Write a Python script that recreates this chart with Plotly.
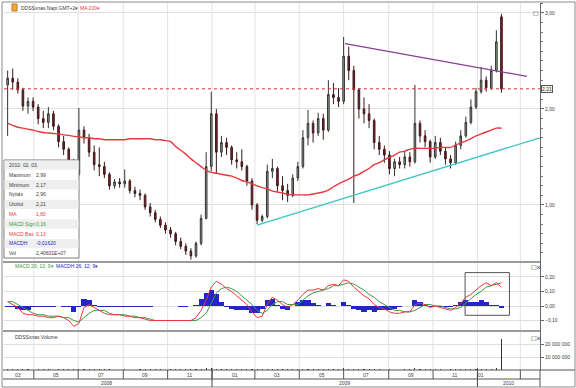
import pandas as pd
import plotly.graph_objects as go

# ---------------- data ----------------
dates = pd.date_range('2008-03-26', '2010-02-03', freq='7D')  # weekly candles

open_ = [2.25, 2.32, 2.28, 2.20, 2.03, 2.08, 2.02, 1.90, 1.86, 1.95,
         1.82, 1.66, 1.58, 1.42, 1.32, 1.78, 1.70, 1.55, 1.42, 1.40,
         1.32, 1.20, 1.24, 1.22, 1.25, 1.15, 1.12, 1.10, 0.98, 0.92,
         0.85, 0.79, 0.74, 0.70, 0.62, 0.57, 0.52, 0.47, 0.60, 0.86,
         1.40, 1.95, 1.55, 1.65, 1.60, 1.47, 1.45, 1.40, 1.25, 1.00,
         0.84, 0.88, 1.35, 1.38, 1.20, 1.15, 1.10, 1.28, 1.40, 1.70,
         1.85, 1.75, 1.90, 1.78, 2.15, 2.12, 2.08, 2.55, 2.40, 2.20,
         2.00, 1.95, 1.88, 1.65, 1.58, 1.52, 1.38, 1.45, 1.42, 1.50,
         1.45, 1.85, 1.72, 1.66, 1.50, 1.65, 1.56, 1.48, 1.44, 1.62,
         1.72, 1.86, 2.02, 2.18, 2.30, 2.22, 2.40, 2.96]
high = [2.40, 2.42, 2.32, 2.22, 2.12, 2.12, 2.05, 1.98, 2.02, 1.98,
        1.84, 1.72, 1.60, 1.48, 2.01, 1.82, 1.74, 1.62, 1.60, 1.45,
        1.34, 1.27, 1.28, 1.37, 1.27, 1.19, 1.16, 1.12, 1.02, 0.95,
        0.88, 0.82, 0.77, 0.72, 0.66, 0.60, 0.55, 0.62, 0.90, 1.55,
        2.18, 2.00, 1.72, 1.70, 1.62, 1.55, 1.58, 1.42, 1.28, 1.02,
        0.90, 1.42, 1.48, 1.40, 1.30, 1.22, 1.32, 1.45, 1.78, 1.99,
        1.88, 1.96, 1.95, 2.30, 2.27, 2.22, 2.75, 2.65, 2.45, 2.22,
        2.12, 2.05, 1.90, 1.72, 1.62, 1.56, 1.48, 1.50, 1.55, 1.55,
        2.25, 1.88, 1.78, 1.68, 1.72, 1.70, 1.60, 1.52, 1.66, 1.78,
        1.92, 2.10, 2.22, 2.44, 2.34, 2.45, 2.82, 2.99]
low = [1.72, 2.20, 2.16, 1.98, 1.95, 1.98, 1.84, 1.80, 1.80, 1.78,
       1.60, 1.52, 1.38, 1.28, 1.30, 1.64, 1.50, 1.36, 1.30, 1.28,
       1.16, 1.17, 1.18, 1.18, 1.12, 1.08, 1.05, 0.95, 0.88, 0.82,
       0.76, 0.70, 0.66, 0.58, 0.54, 0.48, 0.43, 0.45, 0.58, 0.85,
       1.35, 1.33, 1.50, 1.52, 1.42, 1.38, 1.36, 1.20, 0.95, 0.80,
       0.82, 0.86, 1.28, 1.14, 1.05, 1.03, 1.08, 1.25, 1.38, 1.62,
       1.65, 1.72, 1.68, 1.76, 2.05, 2.02, 2.05, 2.30, 1.02, 1.90,
       1.85, 1.80, 1.58, 1.52, 1.44, 1.32, 1.30, 1.38, 1.38, 1.40,
       1.43, 1.65, 1.60, 1.44, 1.48, 1.52, 1.42, 1.38, 1.42, 1.58,
       1.70, 1.84, 2.00, 2.16, 2.18, 2.20, 2.38, 2.17]
close = [2.32, 2.28, 2.20, 2.03, 2.08, 2.02, 1.90, 1.86, 1.95, 1.82,
         1.66, 1.58, 1.42, 1.32, 1.78, 1.70, 1.55, 1.42, 1.40, 1.32,
         1.20, 1.24, 1.22, 1.25, 1.15, 1.12, 1.10, 0.98, 0.92, 0.85,
         0.79, 0.74, 0.70, 0.62, 0.57, 0.52, 0.47, 0.60, 0.86, 1.40,
         1.95, 1.55, 1.65, 1.60, 1.47, 1.45, 1.40, 1.25, 1.00, 0.84,
         0.88, 1.35, 1.38, 1.20, 1.15, 1.10, 1.28, 1.40, 1.70, 1.85,
         1.75, 1.90, 1.78, 2.15, 2.12, 2.08, 2.55, 2.40, 2.20, 2.00,
         1.95, 1.88, 1.65, 1.58, 1.52, 1.38, 1.45, 1.42, 1.50, 1.45,
         1.85, 1.72, 1.66, 1.50, 1.65, 1.56, 1.48, 1.44, 1.62, 1.72,
         1.86, 2.02, 2.18, 2.30, 2.22, 2.40, 2.70, 2.21]
ma200 = [1.85, 1.83, 1.81, 1.80, 1.79, 1.78, 1.765, 1.755, 1.75, 1.745,
         1.74, 1.73, 1.725, 1.715, 1.71, 1.70, 1.70, 1.69, 1.69, 1.68,
         1.68, 1.68, 1.68, 1.68, 1.69, 1.69, 1.69, 1.69, 1.69, 1.68,
         1.68, 1.67, 1.66, 1.61, 1.57, 1.53, 1.48, 1.44, 1.40, 1.36,
         1.34, 1.33, 1.32, 1.31, 1.30, 1.28, 1.255, 1.24, 1.22, 1.20,
         1.18, 1.17, 1.145, 1.135, 1.125, 1.11, 1.105, 1.105, 1.105, 1.105,
         1.115, 1.125, 1.135, 1.155, 1.19, 1.22, 1.245, 1.27, 1.30, 1.32,
         1.35, 1.38, 1.42, 1.44, 1.47, 1.495, 1.52, 1.55, 1.56, 1.58,
         1.59, 1.59, 1.59, 1.59, 1.59, 1.60, 1.60, 1.60, 1.625, 1.645,
         1.665, 1.69, 1.72, 1.74, 1.76, 1.78, 1.80, 1.80]
macd_base = [0.03, 0.01, -0.01, -0.05, -0.06, -0.06, -0.07, -0.07, -0.08, -0.08,
             -0.07, -0.08, -0.10, -0.14, -0.12, -0.01, 0.01, -0.01, -0.03, -0.05,
             -0.06, -0.06, -0.06, -0.07, -0.07, -0.08, -0.08, -0.09, -0.10, -0.10,
             -0.10, -0.10, -0.10, -0.10, -0.10, -0.10, -0.10, -0.08, -0.03, 0.04,
             0.13, 0.17, 0.15, 0.12, 0.10, 0.07, 0.04, 0.01, -0.04, -0.08,
             -0.07, 0.01, 0.06, 0.04, 0.01, -0.01, 0.01, 0.04, 0.08, 0.11,
             0.11, 0.12, 0.11, 0.14, 0.15, 0.14, 0.18, 0.17, 0.13, 0.10,
             0.07, 0.05, 0.01, -0.01, -0.02, -0.04, -0.05, -0.05, -0.04, -0.04,
             0.01, 0.02, 0.01, -0.01, 0.00, -0.01, -0.02, -0.03, -0.01, 0.02,
             0.06, 0.08, 0.11, 0.14, 0.16, 0.14, 0.16, 0.13]
macd_signal = [0.03, 0.03, 0.01, -0.01, -0.03, -0.05, -0.06, -0.06, -0.07, -0.07,
               -0.07, -0.08, -0.08, -0.10, -0.11, -0.08, -0.05, -0.03, -0.03, -0.03,
               -0.05, -0.06, -0.06, -0.06, -0.07, -0.07, -0.08, -0.08, -0.09, -0.10,
               -0.10, -0.10, -0.10, -0.10, -0.10, -0.10, -0.10, -0.10, -0.08, -0.05,
               0.02, 0.09, 0.12, 0.13, 0.12, 0.10, 0.07, 0.04, 0.01, -0.03,
               -0.05, -0.03, 0.01, 0.03, 0.03, 0.01, 0.01, 0.01, 0.04, 0.07,
               0.09, 0.10, 0.11, 0.12, 0.14, 0.14, 0.15, 0.16, 0.15, 0.13,
               0.11, 0.08, 0.06, 0.03, 0.01, -0.01, -0.03, -0.03, -0.04, -0.04,
               -0.03, -0.01, 0.01, 0.01, 0.00, 0.00, -0.01, -0.02, -0.02, -0.01,
               0.02, 0.05, 0.08, 0.10, 0.13, 0.14, 0.15, 0.16]
macd_hist = [-0.01, -0.01, -0.02, -0.03, -0.03, -0.01, -0.01, -0.01, -0.01, -0.01,
             0.00, -0.01, -0.01, -0.04, -0.01, 0.05, 0.04, 0.01, -0.01, -0.01,
             -0.01, -0.01, -0.01, -0.01, -0.01, -0.01, -0.01, -0.01, -0.01, 0.00,
             0.00, 0.00, 0.00, 0.00, -0.005, -0.005, 0.00, 0.01, 0.05, 0.09,
             0.11, 0.08, 0.03, -0.01, -0.02, -0.03, -0.03, -0.03, -0.05, -0.05,
             -0.02, 0.04, 0.05, 0.01, -0.02, -0.03, 0.00, 0.03, 0.04, 0.04,
             0.02, 0.01, 0.00, 0.02, 0.01, 0.00, 0.03, 0.01, -0.02, -0.03,
             -0.04, -0.03, -0.04, -0.03, -0.03, -0.03, -0.02, -0.01, 0.00, 0.00,
             0.04, 0.03, 0.01, -0.01, 0.00, -0.01, -0.01, -0.01, 0.01, 0.03,
             0.04, 0.03, 0.03, 0.04, 0.03, 0.01, 0.01, -0.0162]
volume_m = [0.6, 0.5, 0.4, 0.5, 0.4, 0.3, 0.4, 0.5, 0.4, 0.3,
            0.5, 0.4, 0.6, 0.7, 0.9, 0.5, 0.4, 0.6, 0.5, 0.4,
            0.4, 0.3, 0.3, 0.4, 0.3, 0.3, 0.4, 0.5, 0.4, 0.5,
            0.4, 0.3, 0.4, 0.5, 0.4, 0.6, 0.5, 0.7, 0.9, 1.2,
            1.4, 1.0, 0.6, 0.5, 0.4, 0.4, 0.5, 0.4, 0.7, 0.6,
            0.5, 0.8, 0.6, 0.5, 0.4, 0.4, 0.5, 0.5, 0.8, 0.7,
            0.5, 0.6, 0.5, 0.8, 0.6, 0.5, 1.3, 0.9, 1.0, 0.6,
            0.5, 0.4, 0.5, 0.4, 0.3, 0.4, 0.3, 0.3, 0.4, 0.4,
            1.2, 0.6, 0.5, 0.4, 0.5, 0.4, 0.3, 0.4, 0.6, 0.5,
            0.6, 0.7, 0.8, 0.9, 0.7, 1.1, 1.5, 24.0601]

# drawn trend lines and level
resist_x = ['2009-07-03', '2010-03-10']
resist_y = [2.68, 2.34]
support_x = ['2009-03-04', '2010-03-28']
support_y = [0.79, 1.70]
level = 2.21

x_range = ['2008-03-21', '2010-03-28']
sep_dates = ['2008-05-01', '2008-07-01', '2008-09-01', '2008-11-01', '2009-01-01', '2009-03-01',
             '2009-05-01', '2009-07-01', '2009-09-01', '2009-11-01', '2010-01-01', '2010-03-01']
year_sep = ['2009-01-01', '2010-01-01']
month_labels = ['03', '05', '07', '09', '11', '01', '03', '05', '07', '09', '11', '01']
month_pos = ['2008-04-09', '2008-06-01', '2008-08-01', '2008-10-01', '2008-12-01', '2009-02-01',
             '2009-04-01', '2009-06-01', '2009-08-01', '2009-10-01', '2009-12-01', '2010-01-06']
year_labels = ['2008', '2009', '2010']
year_pos = ['2008-08-09', '2009-07-02', '2010-02-12']
price_ticks = [1, 2, 3]
macd_ticks = [-0.1, 0.0, 0.1, 0.2]
vol_ticks = [10_000_000, 20_000_000]

volume = [v * 1e6 for v in volume_m]
DAY = 86400000

# ---------------- geometry helpers (pixel -> paper) ----------------
W, H = 576, 388
ML, MR, MT, MB = 4, 36, 3, 18
PW, PH = W - ML - MR, H - MT - MB


def px(x):
    return (x - ML) / PW


def py(y):
    return (H - MB - y) / PH


FONT = 'Liberation Sans, Arial, sans-serif'
RED = '#e8383f'
GREEN = '#3c9a3c'
BLUE = '#2424c8'
TXT = '#3a3a3a'

fig = go.Figure()

fig.add_trace(go.Candlestick(
    x=dates, open=open_, high=high, low=low, close=close, xaxis='x', yaxis='y',
    increasing=dict(line=dict(color='#333333', width=1), fillcolor='#8fa88f'),
    decreasing=dict(line=dict(color='#3a1a1a', width=1), fillcolor='#8b1a2b'),
    whiskerwidth=0, hoverinfo='skip'))
fig.add_trace(go.Scatter(x=dates, y=ma200, mode='lines', yaxis='y',
                         line=dict(color=RED, width=1.4, shape='spline'), hoverinfo='skip'))
fig.add_trace(go.Scatter(x=resist_x, y=resist_y, mode='lines', yaxis='y',
                         line=dict(color='#8a3d96', width=1.3), hoverinfo='skip'))
fig.add_trace(go.Scatter(x=support_x, y=support_y, mode='lines', yaxis='y',
                         line=dict(color='#40c4c4', width=1.3), hoverinfo='skip'))
fig.add_trace(go.Scatter(x=x_range, y=[level, level], mode='lines', yaxis='y',
                         line=dict(color='#e03030', width=1, dash='dot'), hoverinfo='skip'))

fig.add_trace(go.Bar(x=dates, y=macd_hist, yaxis='y2', width=7 * DAY,
                     marker=dict(color=BLUE, line=dict(width=0)), hoverinfo='skip'))
fig.add_trace(go.Scatter(x=dates, y=macd_signal, mode='lines', yaxis='y2',
                         line=dict(color=GREEN, width=1), hoverinfo='skip'))
fig.add_trace(go.Scatter(x=dates, y=macd_base, mode='lines', yaxis='y2',
                         line=dict(color=RED, width=1), hoverinfo='skip'))

fig.add_trace(go.Bar(x=dates, y=volume, yaxis='y3', width=1.6 * DAY,
                     marker=dict(color='#333333', line=dict(width=0)), hoverinfo='skip'))

yax_common = dict(side='right', anchor='x', showline=True, linecolor='#666666', linewidth=1,
                  ticks='outside', ticklen=3, tickcolor='#666666', showgrid=True,
                  gridcolor='#dedede', gridwidth=1, zeroline=False, fixedrange=True,
                  tickfont=dict(size=5, color=TXT, family=FONT))

fig.update_layout(
    width=W, height=H, margin=dict(l=ML, r=MR, t=MT, b=MB),
    paper_bgcolor='white', plot_bgcolor='white', showlegend=False,
    separators=', ', barmode='overlay', bargap=0, boxgap=0.55,
    font=dict(family=FONT, size=5, color=TXT),
    xaxis=dict(type='date', range=x_range, anchor='y3', showgrid=False, showticklabels=False,
               ticks='', zeroline=False, showline=False, fixedrange=True,
               rangeslider=dict(visible=False)),
    yaxis=dict(domain=[py(262), 1], range=[0.406, 3.104], tickvals=price_ticks, tickformat='.2f',
               minor=dict(dtick=0.1, tick0=0, ticks='outside', ticklen=2, tickcolor='#777777',
                          showgrid=False), **yax_common),
    yaxis2=dict(domain=[py(331), py(262)], range=[-0.172, 0.303], tickvals=macd_ticks,
                tickformat='.2f', **yax_common),
    yaxis3=dict(domain=[0, py(331)], range=[0, 30_000_000], tickvals=vol_ticks,
                tickformat=',d', **yax_common),
)

shapes = []
# light vertical grid (month separators) through all panels
for d in sep_dates:
    shapes.append(dict(type='line', xref='x', yref='paper', x0=d, x1=d, y0=0, y1=1,
                       line=dict(color='#e2e2e2', width=1), layer='below'))
    shapes.append(dict(type='line', xref='x', yref='paper', x0=d, x1=d, y0=py(379), y1=py(370),
                       line=dict(color='#555555', width=1)))
for d in year_sep:
    shapes.append(dict(type='line', xref='x', yref='paper', x0=d, x1=d, y0=py(387), y1=py(368),
                       line=dict(color='#444444', width=1)))
# panel separators
for yy in (262, 331):
    shapes.append(dict(type='line', xref='paper', yref='paper', x0=px(3), x1=1, y0=py(yy), y1=py(yy),
                       line=dict(color='#9a9a9a', width=2)))
# axis rows
shapes.append(dict(type='line', xref='paper', yref='paper', x0=px(3), x1=px(575), y0=py(370), y1=py(370),
                   line=dict(color='#555555', width=1)))
shapes.append(dict(type='line', xref='paper', yref='paper', x0=px(3), x1=1, y0=py(379), y1=py(379),
                   line=dict(color='#555555', width=1)))
shapes.append(dict(type='line', xref='paper', yref='paper', x0=1, x1=1, y0=py(387), y1=py(370),
                   line=dict(color='#555555', width=1)))
# outer frame
shapes.append(dict(type='rect', xref='paper', yref='paper', x0=px(2), x1=px(575), y0=py(387), y1=py(2),
                   line=dict(color='#8a8a8a', width=1)))
# MACD highlight box
shapes.append(dict(type='rect', xref='x', yref='y2', x0='2009-12-15', x1='2010-02-14', y0=-0.064, y1=0.23,
                   line=dict(color='#555555', width=1)))
# top-left icon
shapes.append(dict(type='rect', xref='paper', yref='paper', x0=px(12), x1=px(17), y0=py(11), y1=py(4),
                   line=dict(color='#c07a20', width=1), fillcolor='#f0a840'))

# info box
info_rows = [
    ('2010. 02. 03.', '', TXT),
    ('Maximum', f'{high[-1]:.2f}', TXT),
    ('Minimum', f'{low[-1]:.2f}', TXT),
    ('Nyitás', f'{open_[-1]:.2f}', TXT),
    ('Utolsó', f'{close[-1]:.2f}', TXT),
    ('MA', f'{ma200[-1]:.2f}', RED),
    ('MACD Sign', f'{macd_signal[-1]:.2f}', GREEN),
    ('MACD Bas', f'{macd_base[-1]:.2f}', RED),
    ('MACDH', f'{macd_hist[-1]:.5f}', BLUE),
    ('Vol', f'{volume[-1]:.5E}', TXT),
]
box_top, row_h = 160, 9.8
shapes.append(dict(type='rect', xref='paper', yref='paper', x0=px(4), x1=px(79),
                   y0=py(box_top + row_h * len(info_rows)), y1=py(box_top),
                   line=dict(color='#7a7a7a', width=1), fillcolor='white'))
annotations = []
for i, (lab, val, col) in enumerate(info_rows):
    y0 = box_top + row_h * i
    if i % 2 == 0:
        shapes.append(dict(type='rect', xref='paper', yref='paper', x0=px(4.5), x1=px(78.5),
                           y0=py(y0 + row_h), y1=py(y0 + 0.5), line=dict(width=0), fillcolor='#efefef'))
    yc = py(y0 + row_h / 2)
    annotations.append(dict(xref='paper', yref='paper', x=px(7), y=yc, text=lab, showarrow=False,
                            xanchor='left', yanchor='middle', font=dict(size=5, color=col)))
    if val:
        annotations.append(dict(xref='paper', yref='paper', x=px(34), y=yc,
                                text=val.replace('.', ','), showarrow=False,
                                xanchor='left', yanchor='middle', font=dict(size=5, color=col)))

# legends / titles
annotations += [
    dict(xref='paper', yref='paper', x=px(19), y=py(7.5), text='DDSSxnas Napi GMT+2▾', showarrow=False,
         xanchor='left', yanchor='middle', font=dict(size=5, color=TXT)),
    dict(xref='paper', yref='paper', x=px(78), y=py(7.5), text='MA 200▾', showarrow=False,
         xanchor='left', yanchor='middle', font=dict(size=5, color=RED)),
    dict(xref='paper', yref='paper', x=px(13), y=py(266), text='MACD 26; 12; 9▾', showarrow=False,
         xanchor='left', yanchor='middle', font=dict(size=5, color=GREEN)),
    dict(xref='paper', yref='paper', x=px(54), y=py(266), text='MACDH 26; 12; 9▾', showarrow=False,
         xanchor='left', yanchor='middle', font=dict(size=5, color=BLUE)),
    dict(xref='paper', yref='paper', x=px(13), y=py(336.5), text='DDSSxnas Volume', showarrow=False,
         xanchor='left', yanchor='middle', font=dict(size=5, color=TXT)),
    dict(xref='paper', yref='y', x=1, y=level, text=f'{level:.2f}'.replace('.', ','), showarrow=False,
         xanchor='left', yanchor='middle', xshift=1, bgcolor='#f3f3e6', bordercolor='#555555',
         borderwidth=1, borderpad=0, font=dict(size=5, color=TXT)),
]
for yy in (13, 266, 337):
    annotations.append(dict(xref='paper', yref='paper', x=px(536), y=py(yy),
                            text='□' if yy == 13 else '□x', showarrow=False, xanchor='center',
                            yanchor='middle', font=dict(size=6, color='#333333',
                                                        family='DejaVu Sans')))
for lab, d in zip(month_labels, month_pos):
    annotations.append(dict(xref='x', yref='paper', x=d, y=py(374.5), text=lab, showarrow=False,
                            xanchor='center', yanchor='middle', font=dict(size=5, color=TXT)))
for lab, d in zip(year_labels, year_pos):
    annotations.append(dict(xref='x', yref='paper', x=d, y=py(383), text=lab, showarrow=False,
                            xanchor='center', yanchor='middle', font=dict(size=5, color=TXT)))

fig.update_layout(shapes=shapes, annotations=annotations)
fig.write_html('out.html', config={'displayModeBar': False, 'staticPlot': True},
               post_script="document.body.style.margin='0';document.body.style.overflow='hidden';")
